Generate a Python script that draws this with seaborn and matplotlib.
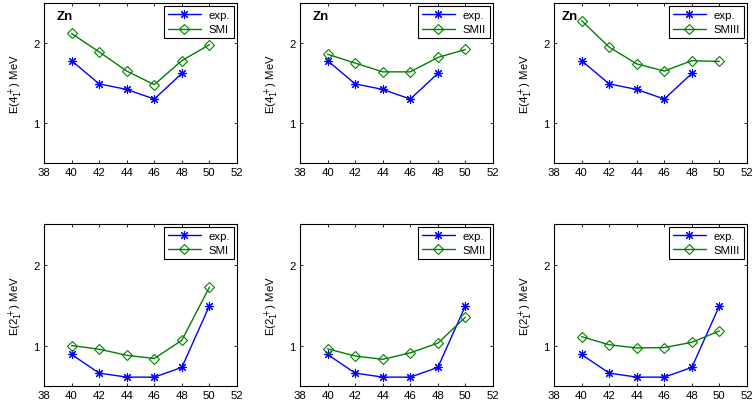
import pandas as pd
import matplotlib.pyplot as plt
import seaborn as sns

# Neutron number N
neutrons = [40, 42, 44, 46, 48, 50]

# Experimental energies (MeV)
exp_4 = [1.78, 1.49, 1.42, 1.30, 1.62]
exp_2 = [0.89, 0.66, 0.61, 0.61, 0.73, 1.49]

# Shell-model results (MeV)
model_names = ["SMI", "SMII", "SMIII"]
smi_4 = [2.12, 1.89, 1.65, 1.48, 1.78, 1.98]
smii_4 = [1.86, 1.75, 1.64, 1.64, 1.82, 1.92]
smiii_4 = [2.28, 1.95, 1.74, 1.65, 1.78, 1.77]
smi_2 = [1.00, 0.955, 0.88, 0.84, 1.065, 1.72]
smii_2 = [0.96, 0.87, 0.83, 0.91, 1.03, 1.35]
smiii_2 = [1.11, 1.01, 0.97, 0.975, 1.04, 1.18]

model_4 = [smi_4, smii_4, smiii_4]
model_2 = [smi_2, smii_2, smiii_2]

sns.set_style("ticks")
plt.rcParams["font.family"] = ["Liberation Sans", "DejaVu Sans"]
plt.rcParams["font.size"] = 8.2
plt.rcParams["axes.linewidth"] = 0.8
plt.rcParams["xtick.direction"] = "in"
plt.rcParams["ytick.direction"] = "in"
for key in ["text.color", "axes.labelcolor", "xtick.color", "ytick.color",
            "axes.edgecolor"]:
    plt.rcParams[key] = "black"

BLUE = "#0000ff"
GREEN = "#008000"
FS = 8.2

fig = plt.figure(figsize=(7.53, 4.10), dpi=100)

lefts = [0.0584, 0.3984, 0.7357]
width = 0.2563
rows = [(0.600, 0.390), (0.056, 0.395)]
zn_x = [0.067, 0.067, 0.04]

for r, (bottom, height) in enumerate(rows):
    for c, name in enumerate(model_names):
        ax = fig.add_axes([lefts[c], bottom, width, height])
        if r == 0:
            exp_vals, mod_vals, level = exp_4, model_4[c], "4"
        else:
            exp_vals, mod_vals, level = exp_2, model_2[c], "2"

        exp_df = pd.DataFrame({"N": neutrons[:len(exp_vals)], "E": exp_vals})
        mod_df = pd.DataFrame({"N": neutrons[:len(mod_vals)], "E": mod_vals})

        sns.lineplot(data=exp_df, x="N", y="E", ax=ax, color=BLUE,
                     marker=(8, 2, 0), markersize=6.5, markeredgewidth=0.8,
                     markeredgecolor=BLUE, lw=1, label="exp.")
        sns.lineplot(data=mod_df, x="N", y="E", ax=ax, color=GREEN,
                     marker="D", markersize=5.2, markerfacecolor="none",
                     markeredgecolor=GREEN, markeredgewidth=0.8, lw=1,
                     label=name)

        ax.set_xlim(38, 52)
        ax.set_ylim(0.5, 2.5)
        ax.set_xticks([38, 40, 42, 44, 46, 48, 50, 52])
        ax.set_yticks([1, 2])
        ax.tick_params(top=True, right=True, length=2.5, width=0.6,
                       labelsize=FS, pad=3)
        ax.set_xlabel("")
        ax.set_ylabel(f"E({level}$_1^+$) MeV", fontsize=FS, labelpad=6)

        leg = ax.legend(loc="upper right", fontsize=FS, frameon=True,
                        fancybox=False, framealpha=1, edgecolor="black",
                        handlelength=2.9, borderaxespad=0.25,
                        borderpad=0.35, labelspacing=0.4, handletextpad=0.7)
        leg.get_frame().set_linewidth(0.8)

        if r == 0:
            ax.text(zn_x[c], 0.92, "Zn", transform=ax.transAxes,
                    fontsize=9.5, fontweight="bold", va="center", ha="left")

fig.savefig("out.png", dpi=100)
